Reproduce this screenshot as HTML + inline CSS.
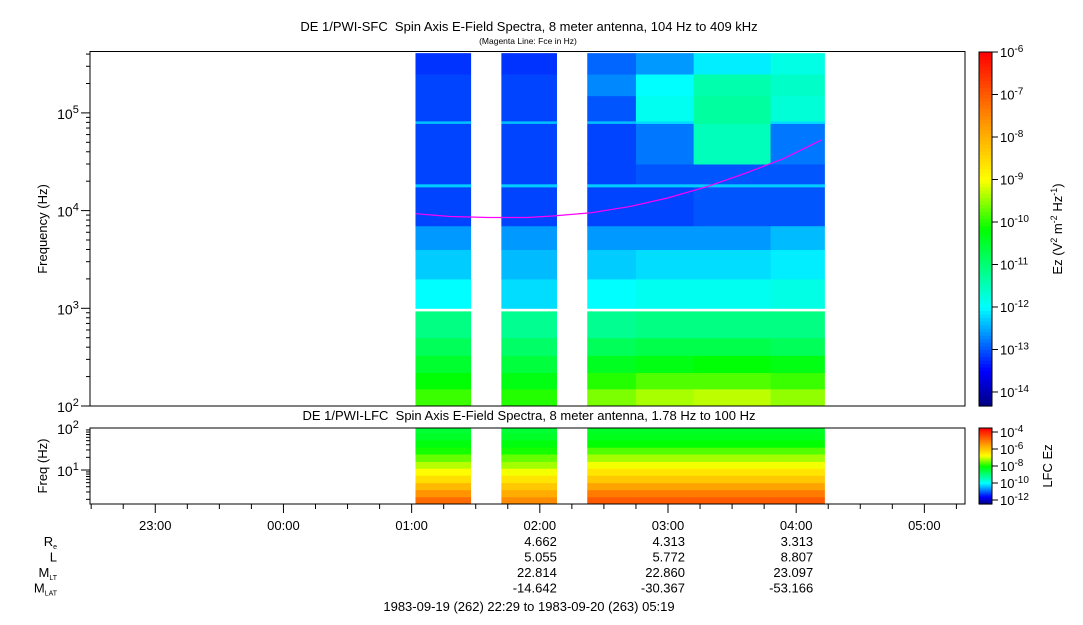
<!DOCTYPE html>
<html><head><meta charset="utf-8"><style>
body{margin:0;background:#fff;font-family:"Liberation Sans",sans-serif}
svg text{font-family:"Liberation Sans",sans-serif;fill:#000;white-space:pre}
</style></head><body>
<svg id="c" width="1083" height="620" xmlns="http://www.w3.org/2000/svg">
<text x="529" y="31" font-size="13" text-anchor="middle">DE 1/PWI-SFC&#160; Spin Axis E-Field Spectra, 8 meter antenna, 104 Hz to 409 kHz</text>
<text x="528" y="44" font-size="8.5" text-anchor="middle">(Magenta Line: Fce in Hz)</text>
<text x="529" y="420" font-size="13" text-anchor="middle">DE 1/PWI-LFC&#160; Spin Axis E-Field Spectra, 8 meter antenna, 1.78 Hz to 100 Hz</text>
<text transform="translate(47,229) rotate(-90)" font-size="13" text-anchor="middle">Frequency (Hz)</text>
<text transform="translate(47,466) rotate(-90)" font-size="13" text-anchor="middle">Freq (Hz)</text>
<text transform="translate(1062,229) rotate(-90)" font-size="13" text-anchor="middle">Ez (V<tspan dy="-5" font-size="9">2</tspan><tspan dy="5"> m</tspan><tspan dy="-5" font-size="9">-2</tspan><tspan dy="5"> Hz</tspan><tspan dy="-5" font-size="9">-1</tspan><tspan dy="5">)</tspan></text>
<text transform="translate(1052,466) rotate(-90)" font-size="13" text-anchor="middle">LFC Ez</text>
<text x="529" y="611" font-size="13" text-anchor="middle">1983-09-19 (262) 22:29 to 1983-09-20 (263) 05:19</text>
<g id="g"></g>
</svg>
<script>
// time in hours relative to 00:00 of 1983-09-20
const timeTicks=[-1,0,1,2,3,4,5];
const timeTickLabels=["23:00","00:00","01:00","02:00","03:00","04:00","05:00"];
const blocks=[[1.03,1.46],[1.7,2.13],[2.37,2.75],[2.75,3.2],[3.2,3.8],[3.8,4.22]];
const topBandEdges=[100,150,220,330,500,930,1000,2000,4000,7000,17500,18800,30000,78000,83000,150000,250000,409000];
// log10 power per band (bottom->top), one array per block; null = no data
const topB1=[-9.9,-10.2,-10.5,-10.8,-11.1,null,-12.0,-12.3,-12.6,-13.1,-12.3,-13.1,-13.1,-12.4,-13.1,-13.1,-13.2];
const topB2=[-10.0,-10.3,-10.6,-10.9,-11.2,null,-12.2,-12.4,-12.6,-13.1,-12.3,-13.1,-13.1,-12.4,-13.1,-13.1,-13.2];
const topB3=[-9.6,-10.0,-10.4,-10.8,-11.2,null,-12.0,-12.3,-12.6,-13.1,-12.3,-13.1,-13.1,-12.4,-13.0,-12.7,-12.9];
const topB4=[-9.4,-9.8,-10.3,-10.7,-11.1,null,-11.9,-12.2,-12.6,-13.1,-12.3,-13.0,-12.8,-12.2,-11.9,-12.0,-12.6];
const topB5=[-9.3,-9.8,-10.2,-10.7,-11.1,null,-11.9,-12.2,-12.6,-13.0,-12.3,-13.0,-11.5,-11.3,-11.3,-11.4,-12.1];
const topB6=[-9.5,-9.9,-10.3,-10.8,-11.1,null,-11.8,-12.1,-12.4,-13.0,-12.3,-13.0,-12.8,-12.2,-11.7,-11.6,-11.8];
const topData=[topB1,topB2,topB3,topB4,topB5,topB6];
const lowBandEdges=[1.55,2.3,3.4,5.0,7.5,11,16,24,35,52,77,100];
const lowB1=[-4.8,-5.3,-5.8,-6.3,-6.7,-7.1,-7.5,-7.9,-8.1,-8.3,-8.4];
const lowB2=[-5.2,-5.6,-6.0,-6.4,-6.8,-7.2,-7.5,-7.9,-8.1,-8.3,-8.4];
const lowB3=[-4.6,-5.0,-5.5,-6.0,-6.4,-6.8,-7.2,-7.6,-8.0,-8.2,-8.3];
const lowData=[lowB1,lowB2,lowB3,lowB3,lowB3,lowB3];
const fceTimes=[1.03,1.3,1.6,1.9,2.1,2.4,2.7,3.0,3.3,3.6,3.9,4.2];
const fceValues=[9300,8700,8500,8500,8800,9500,11000,13500,17500,24000,34000,53000];
const ephemCols=[2,3,4];
const ephemRe=["4.662","4.313","3.313"];
const ephemL=["5.055","5.772","8.807"];
const ephemMLT=["22.814","22.860","23.097"];
const ephemMLAT=["-14.642","-30.367","-53.166"];

const NS="http://www.w3.org/2000/svg",G=document.getElementById('g');
function mk(t,a,p){const e=document.createElementNS(NS,t);for(const k in a)e.setAttribute(k,a[k]);(p||G).appendChild(e);return e;}
const X0=89,X1=965,T0=-1.517,T1=5.317;
const xS=t=>X0+(t-T0)/(T1-T0)*(X1-X0);
const yTop=f=>406-(Math.log10(f)-2)*97.7;
const yLow=f=>504-(Math.log10(f)-Math.log10(1.55))*42;
const stops=[[0,[0,0,128]],[0.1,[0,0,255]],[0.28,[0,255,255]],[0.5,[0,255,0]],[0.64,[255,255,0]],[0.8,[255,150,0]],[1,[255,0,0]]];
function cmap(u){u=Math.max(0,Math.min(1,u));for(let i=1;i<stops.length;i++){if(u<=stops[i][0]){const a=stops[i-1],b=stops[i],k=(u-a[0])/(b[0]-a[0]);const c=a[1].map((v,j)=>Math.round(v+(b[1][j]-v)*k));return `rgb(${c})`;}}return 'rgb(255,0,0)';}
const TMIN=-14.33,TMAX=-6,LMIN=-12.47,LMAX=-3.53;
const topU=v=>(v-TMIN)/(TMAX-TMIN), lowU=v=>(v-LMIN)/(LMAX-LMIN);
blocks.forEach((b,bi)=>{const x=xS(b[0]),w=xS(b[1])-x;
 topData[bi].forEach((v,i)=>{if(v===null)return;const y1=yTop(topBandEdges[i+1]),y0=yTop(topBandEdges[i]);
  const r=mk('rect',{x:x,y:y1,width:w+0.5,height:y0-y1+0.5,fill:cmap(topU(v))});
  
  });
 lowData[bi].forEach((v,i)=>{const y1=Math.max(428,yLow(lowBandEdges[i+1])),y0=Math.min(504,yLow(lowBandEdges[i]));
  const r=mk('rect',{x:x,y:y1,width:w+0.5,height:y0-y1+0.5,fill:cmap(lowU(v))});
  
  });
});
const fp=mk('polyline',{points:fceTimes.map((t,i)=>xS(t)+','+yTop(fceValues[i])).join(' '),fill:'none',stroke:'#f0f','stroke-width':1.2});


[[90,51.5,875,354.5],[90,428,875,76]].forEach((r,i)=>{const e=mk('rect',{x:r[0],y:r[1],width:r[2],height:r[3],fill:'none',stroke:'#000','stroke-width':1});
 
 });
for(let d=2;d<=5;d++){for(let m=1;m<10;m++){const f=m*Math.pow(10,d);if(f>409000)break;const y=yTop(f);mk('line',{x1:m==1?81:86,x2:90,y1:y,y2:y,stroke:'#000'});}
 const t=mk('text',{x:68,y:yTop(Math.pow(10,d))+6,'font-size':14,'text-anchor':'middle'});t.innerHTML='10<tspan dy="-6" font-size="11">'+d+'</tspan>';
 
 }
for(let d=0;d<=2;d++){for(let m=1;m<10;m++){const f=m*Math.pow(10,d);if(f<1.6||f>100)continue;const y=yLow(f);if(y<428)continue;mk('line',{x1:m==1?81:86,x2:90,y1:y,y2:y,stroke:'#000'});}
 if(d>=1){const t=mk('text',{x:68,y:yLow(Math.pow(10,d))+6,'font-size':14,'text-anchor':'middle'});t.innerHTML='10<tspan dy="-6" font-size="11">'+d+'</tspan>';
 
 }}
for(let q=Math.ceil(T0*4);q<=T1*4;q++){const x=xS(q/4);mk('line',{x1:x,x2:x,y1:504,y2:q%4==0?513:509,stroke:'#000'});}
timeTicks.forEach((t,i)=>{const e=mk('text',{x:xS(t),y:530,'font-size':13,'text-anchor':'middle'});e.textContent=timeTickLabels[i];
 
 });
const rows=[[ephemRe,'R<tspan font-size="7" dy="3">e</tspan>'],[ephemL,'L'],[ephemMLT,'M<tspan font-size="7" dy="3">LT</tspan>'],[ephemMLAT,'M<tspan font-size="7" dy="3">LAT</tspan>']];
rows.forEach((r,ri)=>{const y=546+ri*15.5;const l=mk('text',{x:57,y:y,'font-size':13,'text-anchor':'end'});l.innerHTML=r[1];
 
 
 r[0].forEach((v,i)=>{const e=mk('text',{x:xS(ephemCols[i])+17,y:y,'font-size':13,'text-anchor':'end'});e.textContent=v;
  
  });});
function cbar(y0,y1,vmin,vmax,uf,labels,name){for(let i=0;i<100;i++){const v=vmin+(vmax-vmin)*(i+0.5)/100;const ya=y1-(y1-y0)*(i+1)/100;mk('rect',{x:979,y:ya,width:13,height:(y1-y0)/100+0.6,fill:cmap(uf(v))});}
 const f=mk('rect',{x:979,y:y0,width:13,height:y1-y0,fill:'none',stroke:'#000'});
 
 
 labels.forEach(p=>{const y=y1-(y1-y0)*(p-vmin)/(vmax-vmin);mk('line',{x1:992,x2:998,y1:y,y2:y,stroke:'#000'});
  const t=mk('text',{x:1000,y:y+5,'font-size':13});t.innerHTML='10<tspan dy="-5" font-size="10">'+p+'</tspan>';
  
  });}
cbar(52,406,TMIN,TMAX,topU,[-6,-7,-8,-9,-10,-11,-12,-13,-14],'sfc-colorbar');
cbar(428,504,LMIN,LMAX,lowU,[-4,-6,-8,-10,-12],'lfc-colorbar');
</script>
</body></html>
